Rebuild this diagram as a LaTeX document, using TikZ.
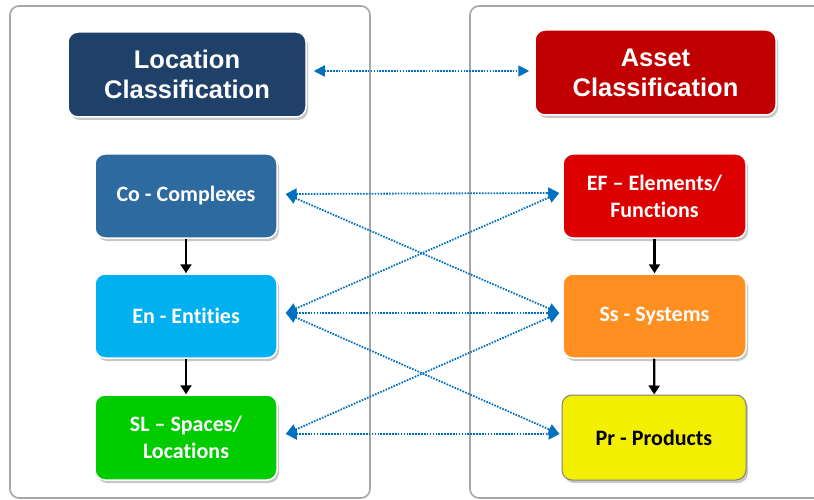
\documentclass[tikz,border=0pt]{standalone}
\usepackage{fontspec}
\setmainfont{Liberation Sans}
\newfontfamily\calib[Ligatures={TeX,NoCommon}]{Carlito}
\usetikzlibrary{arrows.meta,shadows,calc}

\definecolor{locnavy}{HTML}{1F4169}
\definecolor{assetred}{HTML}{C00000}
\definecolor{cocol}{HTML}{2C6AA0}
\definecolor{encol}{HTML}{00B0F0}
\definecolor{slcol}{HTML}{00CC00}
\definecolor{efcol}{HTML}{DD0000}
\definecolor{sscol}{HTML}{FF8F20}
\definecolor{prcol}{HTML}{F3EF00}
\definecolor{linkblue}{HTML}{0070C0}
\definecolor{framegray}{HTML}{A6A6A6}

\tikzset{
  panel/.style={draw=framegray, line width=1.6pt, rounded corners=9pt, fill=white},
  classbox/.style={draw=white, line width=1.5pt, rounded corners=10pt,
    text=white, align=center, inner sep=0pt,
    drop shadow={shadow xshift=2pt, shadow yshift=-3pt, fill=black, opacity=0.22}},
  titlebox/.style={classbox, minimum width=238pt, minimum height=85pt,
    font=\bfseries\fontsize{25.5}{30}\selectfont},
  itembox/.style={classbox, minimum width=182pt, minimum height=84pt,
    font=\calib\bfseries\fontsize{22}{27}\selectfont},
  link/.style={draw=linkblue, line width=1.8pt, dash pattern=on 1.6pt off 1.3pt,
    {Triangle[length=11pt,width=11pt]}-{Triangle[length=11pt,width=11pt]}},
  flow/.style={draw=black, line width=2.2pt, -{Triangle[length=9pt,width=11pt]}}
}

\begin{document}
\begin{tikzpicture}[x=1pt,y=-1pt]
  \clip (0,0) rectangle (814,500);
  \fill[white] (0,0) rectangle (814,500);

  % the two panels
  \draw[panel] (10,6) rectangle (370,498);
  \draw[panel] (470,6) rectangle (850,498);

  % location side
  \node[titlebox, fill=locnavy] (loc) at (187,74.5) {Location\\Classification};
  \node[itembox, fill=cocol] (co) at (186,196) {Co - Complexes};
  \node[itembox, fill=encol] (en) at (186,316) {En - Entities};
  \node[itembox, fill=slcol, minimum height=85pt] (sl) at (186,437.5) {SL \textendash{} Spaces/\\Locations};

  % asset side
  \node[titlebox, fill=assetred, minimum width=241pt] (asset) at (655.5,72.5) {Asset\\Classification};
  \node[itembox, fill=efcol, minimum width=183pt] (ef) at (654.5,196) {EF \textendash{} Elements/\\Functions};
  \node[itembox, fill=sscol, minimum width=183pt] (ss) at (654.5,316) {Ss - Systems};
  \node[itembox, fill=prcol, draw=gray, line width=1pt, text=black,
        minimum width=184pt, minimum height=85pt] (pr) at (654,437.5) {Pr - Products};

  % hierarchy arrows
  \draw[flow] (co) -- (en);
  \draw[flow] (en) -- (sl);
  \draw[flow] (ef) -- (ss);
  \draw[flow] (ss) -- (pr);

  % link end points
  \coordinate (locR) at ($(loc.east)+(7,-3.5)$);
  \coordinate (assetL) at ($(asset.west)+(-5,-1.5)$);
  \coordinate (coR) at ($(co.east)+(8,-2)$);
  \coordinate (enR) at ($(en.east)+(8,-3)$);
  \coordinate (slR) at ($(sl.east)+(8,-3.5)$);
  \coordinate (efL) at ($(ef.west)+(-3,-3)$);
  \coordinate (ssL) at ($(ss.west)+(-3,-3)$);
  \coordinate (prL) at ($(pr.west)+(-2,-3.5)$);

  % cross links between the classifications
  \draw[link] (locR) -- (assetL);
  \draw[link] (coR) -- (efL);
  \draw[link] (coR) -- (ssL);
  \draw[link] (enR) -- (efL);
  \draw[link] (enR) -- (ssL);
  \draw[link] (enR) -- (prL);
  \draw[link] (slR) -- (ssL);
  \draw[link] (slR) -- (prL);
\end{tikzpicture}
\end{document}
